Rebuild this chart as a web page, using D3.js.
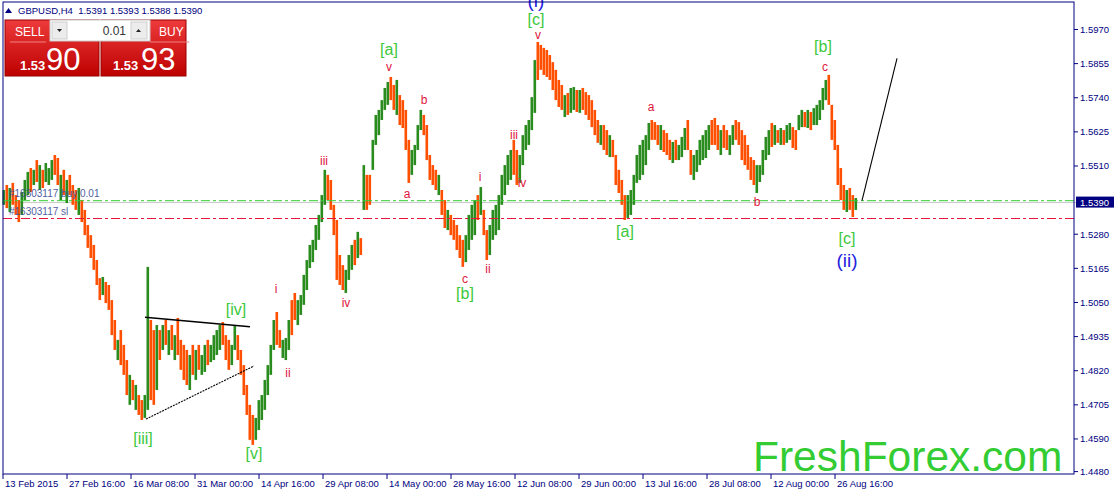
<!DOCTYPE html>
<html><head><meta charset="utf-8">
<script src="https://cdnjs.cloudflare.com/ajax/libs/d3/7.8.5/d3.min.js"></script>
<style>body{margin:0;background:#fff;overflow:hidden}svg{display:block;font-family:"Liberation Sans",Arial,sans-serif}</style>
</head><body><svg id="c" width="1114" height="492"></svg>
<script>
// ---- data (each entry = one 12h block of three H4 bars) ----
const highs=[1.5429,1.5446,1.5436,1.5453,1.5412,1.5395,1.5422,1.5463,1.5490,1.5503,
1.5497,1.5530,1.5513,1.5497,1.5520,1.5503,1.5530,1.5547,1.5537,1.5480,
1.5497,1.5463,1.5480,1.5446,1.5429,1.5436,1.5395,1.5362,1.5311,1.5277,
1.5244,1.5193,1.5132,1.5136,1.5119,1.5109,1.5058,1.4991,1.4924,1.4957,
1.4907,1.4856,1.4806,1.4789,1.4772,1.4738,1.4721,1.4738,1.5170,1.4991,
1.4957,1.4974,1.4957,1.4974,1.4991,1.4957,1.4974,1.4940,1.4998,1.4924,
1.4907,1.4890,1.4873,1.4907,1.4890,1.4907,1.4873,1.4907,1.4924,1.4907,
1.4940,1.4957,1.4974,1.4984,1.4940,1.4924,1.4907,1.4974,1.4940,1.4890,
1.4839,1.4772,1.4705,1.4671,1.4661,1.4721,1.4738,1.4789,1.4839,1.4907,
1.4991,1.5018,1.4957,1.4924,1.4930,1.4991,1.5058,1.5082,1.5058,1.5075,
1.5143,1.5193,1.5244,1.5261,1.5311,1.5345,1.5412,1.5497,1.5480,1.5463,
1.5379,1.5328,1.5210,1.5176,1.5160,1.5210,1.5244,1.5261,1.5288,1.5267,
1.5513,1.5480,1.5480,1.5598,1.5682,1.5699,1.5732,1.5773,1.5793,1.5810,
1.5783,1.5800,1.5749,1.5732,1.5699,1.5598,1.5564,1.5581,1.5648,1.5699,
1.5682,1.5648,1.5547,1.5513,1.5497,1.5480,1.5429,1.5395,1.5362,1.5345,
1.5328,1.5311,1.5277,1.5261,1.5277,1.5345,1.5379,1.5395,1.5412,1.5439,
1.5362,1.5294,1.5311,1.5362,1.5379,1.5412,1.5480,1.5513,1.5547,1.5564,
1.5598,1.5564,1.5547,1.5614,1.5648,1.5665,1.5742,1.5867,1.5928,1.5918,
1.5908,1.5901,1.5884,1.5860,1.5834,1.5800,1.5783,1.5749,1.5756,1.5773,
1.5776,1.5766,1.5766,1.5773,1.5759,1.5749,1.5732,1.5699,1.5665,1.5648,
1.5648,1.5631,1.5614,1.5598,1.5547,1.5497,1.5463,1.5412,1.5412,1.5429,
1.5480,1.5547,1.5581,1.5598,1.5614,1.5655,1.5665,1.5658,1.5648,1.5648,
1.5631,1.5621,1.5598,1.5591,1.5598,1.5581,1.5608,1.5638,1.5665,1.5564,
1.5547,1.5564,1.5598,1.5614,1.5631,1.5648,1.5665,1.5672,1.5648,1.5631,
1.5648,1.5631,1.5614,1.5648,1.5665,1.5658,1.5631,1.5614,1.5581,1.5540,
1.5530,1.5513,1.5513,1.5564,1.5608,1.5631,1.5655,1.5648,1.5631,1.5638,
1.5631,1.5648,1.5655,1.5641,1.5631,1.5682,1.5699,1.5692,1.5699,1.5692,
1.5705,1.5716,1.5732,1.5773,1.5800,1.5817,1.5716,1.5665,1.5581,1.5503,
1.5446,1.5429,1.5436,1.5412,1.5402];
const lows=[1.5379,1.5368,1.5355,1.5379,1.5345,1.5321,1.5345,1.5395,1.5412,1.5422,
1.5446,1.5456,1.5429,1.5436,1.5456,1.5446,1.5463,1.5480,1.5446,1.5395,
1.5412,1.5385,1.5412,1.5379,1.5362,1.5345,1.5321,1.5277,1.5234,1.5200,
1.5160,1.5109,1.5058,1.5075,1.5048,1.5025,1.4940,1.4890,1.4856,1.4839,
1.4806,1.4738,1.4705,1.4721,1.4688,1.4671,1.4654,1.4661,1.4688,1.4721,
1.4705,1.4755,1.4856,1.4890,1.4907,1.4873,1.4890,1.4856,1.4873,1.4823,
1.4789,1.4772,1.4755,1.4806,1.4789,1.4823,1.4806,1.4816,1.4839,1.4849,
1.4856,1.4873,1.4890,1.4907,1.4856,1.4823,1.4839,1.4890,1.4856,1.4806,
1.4738,1.4671,1.4587,1.4570,1.4587,1.4620,1.4654,1.4688,1.4738,1.4806,
1.4890,1.4907,1.4897,1.4863,1.4856,1.4890,1.4940,1.4991,1.4974,1.5008,
1.5042,1.5092,1.5166,1.5186,1.5227,1.5261,1.5321,1.5379,1.5395,1.5362,
1.5277,1.5126,1.5109,1.5092,1.5082,1.5126,1.5160,1.5176,1.5200,1.5210,
1.5362,1.5362,1.5379,1.5497,1.5581,1.5614,1.5665,1.5699,1.5716,1.5732,
1.5699,1.5682,1.5648,1.5638,1.5564,1.5453,1.5480,1.5513,1.5564,1.5631,
1.5614,1.5530,1.5463,1.5446,1.5429,1.5412,1.5345,1.5301,1.5294,1.5277,
1.5261,1.5227,1.5200,1.5170,1.5186,1.5227,1.5261,1.5277,1.5328,1.5345,
1.5277,1.5193,1.5210,1.5261,1.5277,1.5294,1.5379,1.5412,1.5446,1.5463,
1.5480,1.5446,1.5453,1.5513,1.5564,1.5581,1.5631,1.5689,1.5800,1.5834,
1.5817,1.5810,1.5800,1.5766,1.5732,1.5709,1.5699,1.5675,1.5682,1.5689,
1.5699,1.5692,1.5689,1.5699,1.5682,1.5665,1.5641,1.5614,1.5588,1.5581,
1.5564,1.5547,1.5540,1.5540,1.5446,1.5419,1.5379,1.5328,1.5335,1.5345,
1.5379,1.5453,1.5463,1.5480,1.5513,1.5564,1.5598,1.5598,1.5581,1.5564,
1.5557,1.5547,1.5530,1.5520,1.5530,1.5530,1.5540,1.5564,1.5564,1.5480,
1.5463,1.5490,1.5513,1.5530,1.5537,1.5564,1.5581,1.5581,1.5564,1.5547,
1.5571,1.5564,1.5547,1.5581,1.5598,1.5581,1.5530,1.5513,1.5497,1.5463,
1.5446,1.5419,1.5456,1.5480,1.5530,1.5547,1.5574,1.5581,1.5588,1.5581,
1.5581,1.5588,1.5598,1.5571,1.5564,1.5631,1.5641,1.5641,1.5638,1.5631,
1.5648,1.5648,1.5665,1.5699,1.5732,1.5716,1.5598,1.5564,1.5446,1.5395,
1.5362,1.5355,1.5362,1.5338,1.5362];
const dirs="UDUDDDUUUD"+"UDUDUUUDDU"+"DUDDDUDDDD"+"DDDUDDDDUD"+"DDUDUDDUUD"+"DUDUDUDUDD"+"DDUDUDUUDU"+"UUUDDDUUDD"+"DDDDUUUUUU"+"UDDUUUDDUU"+
"UUUUUUUUDD"+"DDDDUUUDUD"+"UDDUUUUUUD"+"DUDDDDUUUU"+"DDDDDUDDUD"+"DDDDUUUUDU"+"DDUUUUUUUU"+"DDUUUUUUDD"+"DDDDDDDUDU"+"UDUDDDDDDU"+
"DDUDDDDDUU"+"UUUUUUDDDU"+"DDDUDUUUDD"+"UUUUUUDDDU"+"DDUUDDDDDD"+"DUUUUUDUDU"+"DUUDDUUDUD"+"UUUUUDDDDD"+"DUDDU";
const priceTicks=[1.5970,1.5855,1.5740,1.5625,1.5510,1.5280,1.5165,1.5050,1.4935,1.4820,1.4705,1.4590,1.4480];
const timeLabels=["13 Feb 2015","27 Feb 16:00","16 Mar 08:00","31 Mar 00:00","14 Apr 16:00","29 Apr 08:00","14 May 00:00","28 May 16:00","12 Jun 08:00","29 Jun 00:00","13 Jul 16:00","28 Jul 08:00","12 Aug 00:00","26 Aug 16:00"];
const bidPrice=1.5390, buyPrice=1.5393, slPrice=1.5333;
// annotations: [bar index (H4), price, text]
const greenLabels=[[140,1.4573,"[iii]"],[233,1.5008,"[iv]"],[251,1.4523,"[v]"],[386,1.5884,"[a]"],[462,1.5062,"[b]"],[533,1.5985,"[c]"],[622,1.5271,"[a]"],[820,1.5894,"[b]"],[844,1.5247,"[c]"]];
const redLabels=[[386,1.5830,"v"],[321,1.5513,"iii"],[343,1.5035,"iv"],[404,1.5402,"a"],[421,1.5719,"b"],[462,1.5116,"c"],[477,1.5459,"i"],[485,1.5149,"ii"],[511,1.5601,"iii"],[519,1.5439,"iv"],[535,1.5938,"v"],[648,1.5695,"a"],[754,1.5375,"b"],[822,1.5830,"c"],[273,1.5082,"i"],[285,1.4799,"ii"]];
const blueLabels=[[533,1.6047,"(i)"],[844,1.5170,"(ii)"]];
const trendLines=[[[142,1.5000],[247,1.4968]],[[143,1.4657],[251,1.4836]],[[859,1.5393],[894,1.5873]]];

const svg=d3.select("#c");
const NAVY="#000080";
const x=d3.scaleLinear().domain([0,1071]).range([3,1074]);
const y=d3.scaleLinear().domain([1.4480,1.5970]).range([471.6,29.5]);

// bid line
svg.append("line").attr("x1",3).attr("x2",1076).attr("y1",y(bidPrice)+1).attr("y2",y(bidPrice)+1).attr("stroke","#c8c8c8").attr("stroke-width",1);

// bars
const n=Math.min(highs.length,lows.length);
const bars=d3.range(n).map(i=>({t:3*i+1,h:highs[i],l:lows[i],up:dirs[i]==="U"}));
svg.append("g").selectAll("rect").data(bars).join("rect")
 .attr("x",d=>x(d.t)-1.5).attr("width",2.6)
 .attr("y",d=>y(d.h)).attr("height",d=>Math.max(1,y(d.l)-y(d.h)))
 .attr("fill",d=>d.up?"#2a8c1e":"#ff4f00");

// order lines
svg.append("line").attr("x1",3).attr("x2",1074).attr("y1",y(buyPrice)).attr("y2",y(buyPrice)).attr("stroke","#32cd32").attr("stroke-width",1).attr("stroke-dasharray","9,3,3,3");
svg.append("line").attr("x1",3).attr("x2",1074).attr("y1",y(slPrice)).attr("y2",y(slPrice)).attr("stroke","#e8143c").attr("stroke-width",1).attr("stroke-dasharray","9,3,3,3");
svg.append("text").attr("x",9).attr("y",y(buyPrice)-4).attr("font-size",10).attr("fill","#3c4f96").attr("opacity",0.9).text("#16303117 buy 0.01");
svg.append("text").attr("x",9).attr("y",y(slPrice)-4).attr("font-size",10).attr("fill","#3c4f96").attr("opacity",0.9).text("#16303117 sl");

// trend lines
trendLines.forEach((L,k)=>{
 svg.append("line").attr("x1",x(L[0][0])).attr("y1",y(L[0][1])).attr("x2",x(L[1][0])).attr("y2",y(L[1][1]))
  .attr("stroke","#000").attr("stroke-width",k===0?1.4:1.1).attr("stroke-dasharray",k===1?"2,1":null);
});

// labels
const lab=(arr,size,color)=>svg.append("g").selectAll("text").data(arr).join("text")
 .attr("x",d=>x(d[0])).attr("y",d=>y(d[1])).attr("text-anchor","middle").attr("font-size",size).attr("fill",color).text(d=>d[2]);
lab(greenLabels,16,"#3cc83c");
lab(redLabels,12,"#e0143c");
lab(blueLabels,19,"#2222dd");

// FreshForex
svg.append("text").attr("x",753).attr("y",471).attr("font-size",42.5).attr("fill","#33cc33").text("FreshForex.com");

// frame
svg.append("rect").attr("x",3).attr("y",2).attr("width",1071).attr("height",472).attr("fill","none").attr("stroke",NAVY).attr("stroke-width",1);

// right axis
const ya=svg.append("g");
priceTicks.forEach(p=>{
 ya.append("line").attr("x1",1074).attr("x2",1078).attr("y1",y(p)).attr("y2",y(p)).attr("stroke",NAVY);
 ya.append("text").attr("x",1080).attr("y",y(p)+3.5).attr("font-size",9.5).attr("fill",NAVY).text(p.toFixed(4));
});
svg.append("rect").attr("x",1076).attr("y",y(bidPrice)-5).attr("width",38).attr("height",11).attr("fill",NAVY);
svg.append("text").attr("x",1080).attr("y",y(bidPrice)+4).attr("font-size",9.5).attr("fill","#fff").text(bidPrice.toFixed(4));

// bottom axis
timeLabels.forEach((t,k)=>{
 const xx=x(64*k);
 svg.append("line").attr("x1",xx).attr("x2",xx).attr("y1",474).attr("y2",479).attr("stroke",NAVY);
 svg.append("text").attr("x",xx+2).attr("y",487).attr("font-size",9.5).attr("fill",NAVY).text(t);
});

// title
svg.append("path").attr("d","M5,13 L8.5,8 L12,13 Z").attr("fill",NAVY);
svg.append("text").attr("x",18).attr("y",14).attr("font-size",9.5).attr("fill",NAVY).style("white-space","pre").text("GBPUSD,H4  1.5391 1.5393 1.5388 1.5390");

// trade panel
const defs=svg.append("defs");
const g=defs.append("linearGradient").attr("id","rg").attr("x1",0).attr("x2",0).attr("y1",0).attr("y2",1);
g.append("stop").attr("offset","0%").attr("stop-color","#ee3b3b");
g.append("stop").attr("offset","100%").attr("stop-color","#bd0000");
svg.append("rect").attr("x",5).attr("y",20).attr("width",94).attr("height",56).attr("fill","url(#rg)").attr("stroke","#9a0000");
svg.append("rect").attr("x",101).attr("y",20).attr("width",85).attr("height",56).attr("fill","url(#rg)").attr("stroke","#9a0000");
svg.append("rect").attr("x",50).attr("y",20).attr("width",100).attr("height",21).attr("fill","#fff").attr("stroke","#c8c8c8");
svg.append("rect").attr("x",52).attr("y",22).attr("width",15).attr("height",17).attr("fill","#ececec").attr("stroke","#cfcfcf");
svg.append("rect").attr("x",131).attr("y",22).attr("width",16).attr("height",17).attr("fill","#ececec").attr("stroke","#cfcfcf");
svg.append("path").attr("d","M57,29 L62,29 L59.5,32 Z").attr("fill","#222");
svg.append("path").attr("d","M136,32 L141,32 L138.5,29 Z").attr("fill","#222");
svg.append("text").attr("x",126).attr("y",35).attr("text-anchor","end").attr("font-size",12).attr("fill","#333").text("0.01");
svg.append("text").attr("x",15).attr("y",36).attr("font-size",12).attr("fill","#fff").text("SELL");
svg.append("text").attr("x",159).attr("y",36).attr("font-size",12).attr("fill","#fff").text("BUY");
svg.append("line").attr("x1",10).attr("x2",46).attr("y1",42).attr("y2",42).attr("stroke","#f08080");
svg.append("line").attr("x1",150).attr("x2",189).attr("y1",42).attr("y2",42).attr("stroke","#f08080");
svg.append("text").attr("x",20).attr("y",70).attr("font-size",13).attr("font-weight","bold").attr("fill","#fff").text("1.53");
svg.append("text").attr("x",46).attr("y",70).attr("font-size",31).attr("fill","#fff").text("90");
svg.append("text").attr("x",113).attr("y",70).attr("font-size",13).attr("font-weight","bold").attr("fill","#fff").text("1.53");
svg.append("text").attr("x",141).attr("y",70).attr("font-size",31).attr("fill","#fff").text("93");
</script></body></html>
